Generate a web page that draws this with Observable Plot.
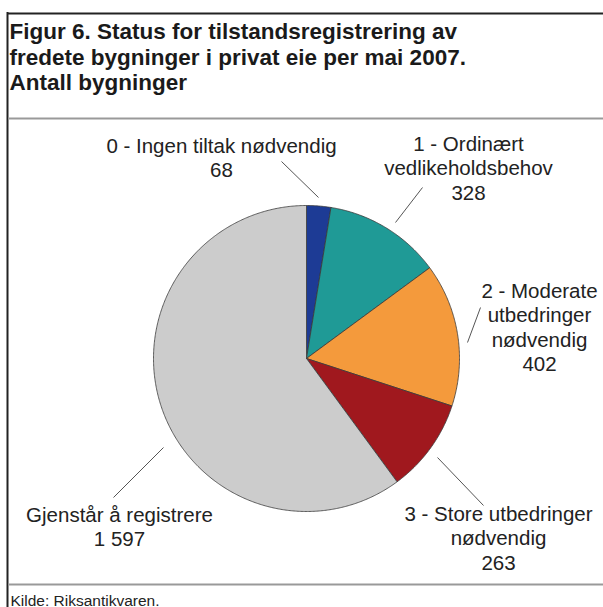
<!DOCTYPE html>
<html><head><meta charset="utf-8">
<script src="https://cdn.jsdelivr.net/npm/d3@7"></script>
<script src="https://cdn.jsdelivr.net/npm/@observablehq/plot@0.6"></script>
<style>body{margin:0;background:#fff}</style>
</head><body><div id="chart"></div>
<script>
// ---- data ----
const titleLines = [
  "Figur 6. Status for tilstandsregistrering av",
  "fredete bygninger i privat eie per mai 2007.",
  "Antall bygninger"
];
const categories = [
  "0 - Ingen tiltak nødvendig",
  "1 - Ordinært vedlikeholdsbehov",
  "2 - Moderate utbedringer nødvendig",
  "3 - Store utbedringer nødvendig",
  "Gjenstår å registrere"
];
const values = [68, 328, 402, 263, 1597];
const valueLabels = ["68", "328", "402", "263", "1 597"];
const labelLines = [
  ["0 - Ingen tiltak nødvendig"],
  ["1 - Ordinært", "vedlikeholdsbehov"],
  ["2 - Moderate", "utbedringer", "nødvendig"],
  ["3 - Store utbedringer", "nødvendig"],
  ["Gjenstår å registrere"]
];
const colors = ["#1d3b95", "#1f9a96", "#f49a3c", "#a0181e", "#cccccc"];
const source = "Kilde: Riksantikvaren.";

// ---- layout ----
const W = 603, H = 607, cx = 306, cy = 358, R = 153;
const labelPos = [[221, 152], [468, 150], [539, 297], [498, 520], [119, 521]];
const leaderPos = [
  [318, 197, 281, 161],
  [395, 222, 422, 187],
  [467, 342, 480, 307],
  [437, 457, 483, 505],
  [163, 447, 113, 497]
];
const lineH = 24.5;
const FONT = "'Liberation Sans', Arial, Helvetica, sans-serif";

// pie polygons
const arcs = d3.pie().sort(null).value(d => d)(values);
const piePts = [];
arcs.forEach((a, i) => {
  const cat = categories[i];
  piePts.push({cat, x: cx, y: cy});
  const n = Math.max(2, Math.ceil((a.endAngle - a.startAngle) / (Math.PI / 360)));
  for (let k = 0; k <= n; k++) {
    const t = a.startAngle + (a.endAngle - a.startAngle) * k / n;
    piePts.push({cat, x: cx + R * Math.sin(t), y: cy - R * Math.cos(t)});
  }
  piePts.push({cat, x: cx, y: cy});
});

// label rows
const labelRows = [];
categories.forEach((c, i) => {
  const lines = labelLines[i].concat([valueLabels[i]]);
  lines.forEach((t, k) => labelRows.push({text: t, x: labelPos[i][0], y: labelPos[i][1] + k * lineH}));
});
const leaders = leaderPos.map(d => ({x1: d[0], y1: d[1], x2: d[2], y2: d[3]}));
const titleRows = titleLines.map((t, k) => ({text: t, x: 9, y: 38.5 + k * 25.5}));

const chart = Plot.plot({
  width: W, height: H,
  margin: 0,
  x: {domain: [0, W], range: [0, W], axis: null},
  y: {domain: [0, H], range: [0, H], axis: null},
  color: {domain: categories, range: colors},
  style: {fontFamily: FONT, background: "#fff", overflow: "visible"},
  marks: [
    // frame
    Plot.ruleY([13], {x1: 7, x2: W, stroke: "#222", strokeWidth: 2}),
    Plot.ruleX([7], {y1: 12, y2: H, stroke: "#222", strokeWidth: 2}),
    Plot.ruleY([118], {x1: 8, x2: W, stroke: "#999", strokeWidth: 2}),
    Plot.ruleY([584], {x1: 8, x2: W, stroke: "#999", strokeWidth: 2}),
    // title
    Plot.text(titleRows, {x: "x", y: "y", text: "text", textAnchor: "start", lineAnchor: "bottom",
      fontSize: 22.5, fontWeight: "bold", fill: "#1a1a1a"}),
    // pie
    Plot.line(piePts, {x: "x", y: "y", z: "cat", fill: "cat", stroke: "#3a3a3a", strokeWidth: 0.8, curve: "linear"}),
    // leader lines
    Plot.link(leaders, {x1: "x1", y1: "y1", x2: "x2", y2: "y2", stroke: "#555", strokeWidth: 1}),
    // labels
    Plot.text(labelRows, {x: "x", y: "y", text: "text", textAnchor: "middle", lineAnchor: "bottom",
      fontSize: 20.5, fill: "#222"}),
    // source
    Plot.text([source], {x: 10, y: 605, text: d => d, textAnchor: "start", lineAnchor: "bottom",
      fontSize: 15.5, fill: "#222"})
  ]
});
document.getElementById("chart").append(chart);
</script>
</body></html>
